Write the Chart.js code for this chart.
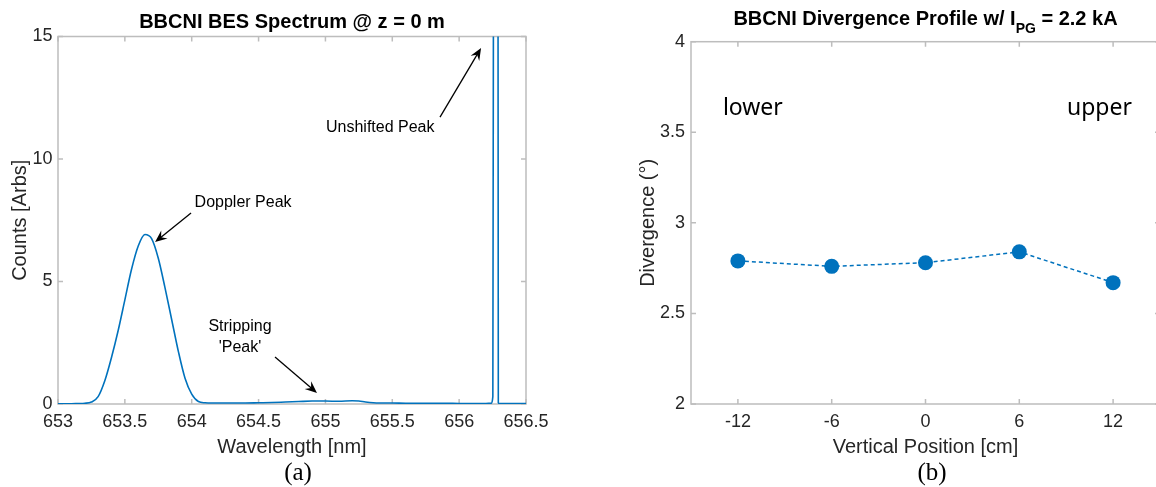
<!DOCTYPE html>
<html><head><meta charset="utf-8">
<script src="https://cdn.jsdelivr.net/npm/chart.js@4.4.0/dist/chart.umd.min.js"></script>
<style>
html,body{margin:0;padding:0;background:#fff;overflow:hidden;width:1156px;height:487px;}
#wrapA{position:absolute;left:0;top:0;width:580px;height:487px;}
#wrapB{position:absolute;left:580px;top:0;width:600px;height:487px;}
.cap{position:absolute;font-family:"Liberation Serif","Times New Roman",serif;font-size:25px;color:#000;transform:translate(-50%,-50%);white-space:nowrap;line-height:28px;}
</style></head><body>
<div id="wrapA"><canvas id="chartA"></canvas></div>
<div id="wrapB"><canvas id="chartB"></canvas></div>
<div class="cap" style="left:298px;top:472px">(a)</div>
<div class="cap" style="left:932px;top:472px">(b)</div>
<script>
// ---------- data: panel (a) spectrum ----------
const wavelength = [653.00, 653.10, 653.15, 653.20, 653.25, 653.30, 653.35, 653.40, 653.45, 653.50,
  653.55, 653.60, 653.65, 653.70, 653.75, 653.80, 653.85, 653.90, 653.95, 654.00,
  654.05, 654.10, 654.15, 654.20, 654.30, 654.40, 654.50, 654.60, 654.70, 654.80,
  654.90, 655.00, 655.10, 655.20, 655.25, 655.30, 655.40, 655.50, 655.60, 655.70,
  655.80, 655.90, 656.00, 656.10, 656.20, 656.24, 656.252, 656.262, 656.275, 656.288,
  656.293, 656.30, 656.40, 656.50];
const counts = [0.01, 0.01, 0.02, 0.03, 0.08, 0.30, 0.95, 1.90, 3.00, 4.25,
  5.50, 6.45, 6.92, 6.75, 5.95, 4.75, 3.45, 2.15, 1.05, 0.40,
  0.10, 0.05, 0.04, 0.04, 0.04, 0.04, 0.05, 0.06, 0.08, 0.10,
  0.12, 0.12, 0.11, 0.13, 0.12, 0.08, 0.04, 0.04, 0.03, 0.03,
  0.03, 0.03, 0.02, 0.02, 0.02, 0.03, 0.30, 40, 60, 40,
  0.05, 0.02, 0.02, 0.02];
const specXTicks = [653, 653.5, 654, 654.5, 655, 655.5, 656, 656.5];
const specXLabels = ['653', '653.5', '654', '654.5', '655', '655.5', '656', '656.5'];
const specYTicks = [0, 5, 10, 15];
const specYLabels = ['0', '5', '10', '15'];

// ---------- data: panel (b) divergence ----------
const positions = [-12, -6, 0, 6, 12];
const divergence = [2.79, 2.76, 2.78, 2.84, 2.67];
const divXTicks = [-12, -6, 0, 6, 12];
const divXLabels = ['-12', '-6', '0', '6', '12'];
const divYTicks = [2, 2.5, 3, 3.5, 4];
const divYLabels = ['2', '2.5', '3', '3.5', '4'];

const BLUE = '#0072BD';
const AXIS = '#bdbdbd';
const TXT = '#262626';
const SANS = '"Liberation Sans", Arial, Helvetica, sans-serif';
Chart.defaults.font.family = SANS;
Chart.defaults.color = TXT;

const frame = {
  id: 'frame',
  beforeDatasetsDraw(chart, args, o) {
    const {ctx, chartArea: a, scales: {x, y}} = chart;
    ctx.save();
    ctx.strokeStyle = o.color; ctx.lineWidth = o.width;
    ctx.strokeRect(a.left, a.top, a.right - a.left, a.bottom - a.top);
    ctx.beginPath();
    x.ticks.forEach(t => { const p = x.getPixelForValue(t.value);
      ctx.moveTo(p, a.bottom); ctx.lineTo(p, a.bottom - o.len);
      ctx.moveTo(p, a.top); ctx.lineTo(p, a.top + o.len); });
    y.ticks.forEach(t => { const p = y.getPixelForValue(t.value);
      ctx.moveTo(a.left, p); ctx.lineTo(a.left + o.len, p);
      ctx.moveTo(a.right, p); ctx.lineTo(a.right - o.len, p); });
    ctx.stroke();
    ctx.restore();
  }
};

const headline = {
  id: 'headline',
  afterDraw(chart, args, o) {
    if (!o.parts) return;
    const {ctx, chartArea: a} = chart;
    ctx.save();
    ctx.fillStyle = '#000';
    ctx.textBaseline = 'alphabetic';
    ctx.textAlign = 'left';
    let total = 0;
    o.parts.forEach(p => { ctx.font = 'bold ' + p.size + 'px ' + SANS; p.w = ctx.measureText(p.text).width; total += p.w; });
    let xx = (a.left + a.right) / 2 - total / 2;
    o.parts.forEach(p => { ctx.font = 'bold ' + p.size + 'px ' + SANS; ctx.fillText(p.text, xx, o.baseline + (p.dy || 0)); xx += p.w; });
    ctx.restore();
  }
};

const annotate = {
  id: 'annotate',
  afterDatasetsDraw(chart, args, o) {
    const {ctx, scales: {x, y}} = chart;
    ctx.save();
    (o.texts || []).forEach(t => {
      ctx.font = t.font; ctx.fillStyle = '#000';
      ctx.textAlign = t.align || 'center'; ctx.textBaseline = t.baseline || 'middle';
      ctx.fillText(t.text, x.getPixelForValue(t.x), y.getPixelForValue(t.y));
    });
    (o.arrows || []).forEach(ar => {
      const x1 = x.getPixelForValue(ar.from[0]), y1 = y.getPixelForValue(ar.from[1]);
      const x2 = x.getPixelForValue(ar.to[0]), y2 = y.getPixelForValue(ar.to[1]);
      const ang = Math.atan2(y2 - y1, x2 - x1);
      const L = 12, W = 5;
      ctx.strokeStyle = '#000'; ctx.fillStyle = '#000'; ctx.lineWidth = 1.3;
      ctx.beginPath();
      ctx.moveTo(x1, y1);
      ctx.lineTo(x2 - Math.cos(ang) * L * 0.6, y2 - Math.sin(ang) * L * 0.6);
      ctx.stroke();
      const bx = x2 - Math.cos(ang) * L, by = y2 - Math.sin(ang) * L;
      const nx = x2 - Math.cos(ang) * L * 0.65, ny = y2 - Math.sin(ang) * L * 0.65;
      ctx.beginPath();
      ctx.moveTo(x2, y2);
      ctx.lineTo(bx + Math.sin(ang) * W, by - Math.cos(ang) * W);
      ctx.lineTo(nx, ny);
      ctx.lineTo(bx - Math.sin(ang) * W, by + Math.cos(ang) * W);
      ctx.closePath();
      ctx.fill();
    });
    ctx.restore();
  }
};

function fixedTicks(values) { return scale => { scale.ticks = values.map(v => ({value: v})); }; }
function labelFrom(values, labels) { return (val) => { const i = values.indexOf(val); return i >= 0 ? labels[i] : ''; }; }

// ---------- panel (a) ----------
new Chart(document.getElementById('chartA'), {
  type: 'line',
  data: {
    datasets: [{
      data: wavelength.map((w, i) => ({x: w, y: counts[i]})),
      borderColor: BLUE, borderWidth: 1.6, pointRadius: 0,
      cubicInterpolationMode: 'monotone', fill: false
    }]
  },
  plugins: [frame, headline, annotate],
  options: {
    responsive: true, maintainAspectRatio: false, animation: false,
    layout: {padding: {left: 0, right: 54, top: 36.5, bottom: 0}},
    plugins: {
      legend: {display: false}, tooltip: {enabled: false}, title: {display: false},
      frame: {color: AXIS, width: 1.5, len: 5},
      headline: {baseline: 28, parts: [{text: 'BBCNI BES Spectrum @ z = 0 m', size: 20}]},
      annotate: {
        texts: [
          {text: 'Unshifted Peak', x: 655.41, y: 11.27, font: '16px ' + SANS},
          {text: 'Doppler Peak', x: 654.384, y: 8.24, font: '16px ' + SANS},
          {text: 'Stripping', x: 654.361, y: 3.14, font: '16px ' + SANS},
          {text: "'Peak'", x: 654.361, y: 2.29, font: '16px ' + SANS}
        ],
        arrows: [
          {from: [655.857, 11.71], to: [656.164, 14.53]},
          {from: [653.995, 7.80], to: [653.726, 6.61]},
          {from: [654.623, 1.92], to: [654.937, 0.45]}
        ]
      }
    },
    scales: {
      x: {
        type: 'linear', min: 653, max: 656.5,
        afterBuildTicks: fixedTicks(specXTicks),
        afterFit: s => { s.height = 83; },
        grid: {display: false, drawTicks: false}, border: {display: false},
        ticks: {padding: 7, font: {size: 18}, color: TXT, maxRotation: 0, autoSkip: false,
          callback: labelFrom(specXTicks, specXLabels)},
        title: {display: true, text: 'Wavelength [nm]', font: {size: 20}, color: TXT, padding: {top: 0, bottom: 28}}
      },
      y: {
        type: 'linear', min: 0, max: 15,
        afterBuildTicks: fixedTicks(specYTicks),
        afterFit: s => { s.width = 58; },
        grid: {display: false, drawTicks: false}, border: {display: false},
        ticks: {padding: 5.5, font: {size: 18}, color: TXT, autoSkip: false,
          callback: labelFrom(specYTicks, specYLabels)},
        title: {display: true, text: 'Counts [Arbs]', font: {size: 20}, color: TXT, padding: {top: 8, bottom: 0}}
      }
    }
  }
});

// ---------- panel (b) ----------
new Chart(document.getElementById('chartB'), {
  type: 'line',
  data: {
    datasets: [{
      data: positions.map((p, i) => ({x: p, y: divergence[i]})),
      borderColor: BLUE, borderWidth: 1.5, borderDash: [4, 3],
      pointRadius: 7.5, pointBackgroundColor: BLUE, pointBorderWidth: 0,
      tension: 0, fill: false
    }]
  },
  plugins: [frame, headline, annotate],
  options: {
    responsive: true, maintainAspectRatio: false, animation: false,
    layout: {padding: {left: 0, right: 20, top: 41.7, bottom: 0}},
    plugins: {
      legend: {display: false}, tooltip: {enabled: false}, title: {display: false},
      frame: {color: AXIS, width: 1.5, len: 5},
      headline: {baseline: 25, parts: [
        {text: 'BBCNI Divergence Profile w/ I', size: 20},
        {text: 'PG', size: 14, dy: 8},
        {text: ' = 2.2 kA', size: 20}
      ]},
      annotate: {
        texts: [
          {text: 'lower', x: -12.96, y: 3.597, align: 'left', baseline: 'alphabetic', font: '23px "Noto Sans", sans-serif'},
          {text: 'upper', x: 9.05, y: 3.597, align: 'left', baseline: 'alphabetic', font: '23px "Noto Sans", sans-serif'}
        ]
      }
    },
    scales: {
      x: {
        type: 'linear', min: -15, max: 15,
        afterBuildTicks: fixedTicks(divXTicks),
        afterFit: s => { s.height = 83; },
        grid: {display: false, drawTicks: false}, border: {display: false},
        ticks: {padding: 7, font: {size: 18}, color: TXT, maxRotation: 0, autoSkip: false,
          callback: labelFrom(divXTicks, divXLabels)},
        title: {display: true, text: 'Vertical Position [cm]', font: {size: 20}, color: TXT, padding: {top: 0, bottom: 28}}
      },
      y: {
        type: 'linear', min: 2, max: 4,
        afterBuildTicks: fixedTicks(divYTicks),
        afterFit: s => { s.width = 111; },
        grid: {display: false, drawTicks: false}, border: {display: false},
        ticks: {padding: 6, font: {size: 18}, color: TXT, autoSkip: false,
          callback: labelFrom(divYTicks, divYLabels)},
        title: {display: true, text: 'Divergence (°)', font: {size: 20}, color: TXT, padding: {top: 56, bottom: 0}}
      }
    }
  }
});
</script></body></html>
